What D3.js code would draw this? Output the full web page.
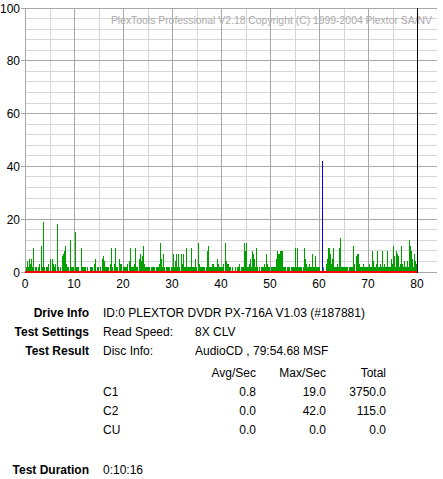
<!DOCTYPE html>
<html><head><meta charset="utf-8">
<script src="https://cdn.jsdelivr.net/npm/d3@7"></script>
<style>
body{margin:0;background:#fff}
svg{display:block}
text{font-family:"Liberation Sans",Arial,sans-serif;}
</style>
</head><body><svg id="c" width="443" height="479"></svg>
<script>
// C1 errors per sample column
const c1 = [
2,4,2,5,3,5,2,9,0,2,
2,0,2,3,0,10,2,19,2,0,
2,2,3,0,5,0,5,3,2,3,
0,18,2,0,2,0,6,7,8,10,
3,2,2,0,12,2,2,2,0,15,
2,2,2,0,0,9,2,2,2,2,
0,2,0,0,2,2,2,0,3,5,
0,2,2,0,2,0,5,6,4,2,
2,2,2,0,3,9,2,0,3,9,
2,2,0,5,3,3,0,2,2,2,
2,3,0,4,9,2,2,2,3,9,
2,2,0,5,7,4,6,10,3,2,
2,2,2,2,0,2,2,2,2,0,
2,2,2,3,11,5,2,7,2,0,
2,2,2,2,0,2,2,7,2,4,
7,2,7,2,0,7,3,7,2,2,
9,2,2,2,2,9,2,2,2,5,
2,0,11,3,2,2,2,2,2,0,
2,8,10,2,2,2,3,3,2,2,
2,5,3,2,2,2,2,3,0,11,
4,3,3,2,2,0,2,0,0,2,
0,2,2,3,0,2,2,2,11,8,
11,2,2,3,5,2,8,7,5,2,
9,2,0,2,0,2,2,2,3,2,
7,3,2,2,0,2,2,2,2,2,
5,8,7,7,8,8,8,2,2,2,
0,2,2,2,0,2,2,2,2,9,
2,9,2,2,2,2,0,2,9,5,
3,2,2,3,2,2,7,2,2,6,
2,2,2,2,0,0,5,2,0,0,
3,5,9,9,7,3,5,9,2,2,
2,3,2,9,13,2,2,2,2,2,
2,2,0,2,2,2,2,10,3,0,
6,7,7,3,2,2,2,3,2,2,
2,2,2,3,2,2,8,4,2,2,
3,8,2,2,3,2,8,2,3,2,
2,8,2,2,2,5,3,10,6,2,
8,7,6,2,3,10,3,2,4,2,
2,4,2,12,10,8,5,2,7,4,
3,2
];
const c2Minutes = [60.6];
const c2Values = [42];
const discMinutes = 79 + 54.68 / 60;
const xTicks = [0, 10, 20, 30, 40, 50, 60, 70, 80];
const xMinor = [5, 15, 25, 35, 45, 55, 65, 75];
const yTicks = [0, 20, 40, 60, 80, 100];
const yMinor = [4, 8, 12, 16, 24, 28, 32, 36, 44, 48, 52, 56, 64, 68, 72, 76, 84, 88, 92, 96];
const watermark = "PlexTools Professional V2.18 Copyright (C) 1999-2004 Plextor SA/NV";

const infoRows = [
  ["Drive Info", "ID:0 PLEXTOR DVDR PX-716A V1.03 (#187881)", ""],
  ["Test Settings", "Read Speed:", "8X CLV"],
  ["Test Result", "Disc Info:", "AudioCD , 79:54.68 MSF"]
];
const statHeaders = ["Avg/Sec", "Max/Sec", "Total"];
const statNames = ["C1", "C2", "CU"];
const statAvg = ["0.8", "0.0", "0.0"];
const statMax = ["19.0", "42.0", "0.0"];
const statTotal = ["3750.0", "115.0", "0.0"];
const durationLabel = "Test Duration";
const durationValue = "0:10:16";

const svg = d3.select("#c");
const x = d3.scaleLinear().domain([0, 84]).range([25, 436.6]);
const y = d3.scaleLinear().domain([0, 100]).range([272, 8]);
const px = v => Math.round(x(v)) + 0.5;
const py = v => Math.floor(y(v)) + 0.5;

const grid = svg.append("g").attr("shape-rendering", "crispEdges");
grid.selectAll(".hm").data(yMinor).join("line")
  .attr("x1", 25).attr("x2", 437).attr("y1", py).attr("y2", py)
  .attr("stroke", "#d6d6d6");
grid.selectAll(".vm").data(xMinor).join("line")
  .attr("x1", px).attr("x2", px).attr("y1", 8).attr("y2", 273)
  .attr("stroke", "#d6d6d6");
grid.selectAll(".hM").data(yTicks).join("line")
  .attr("x1", 21).attr("x2", 437).attr("y1", py).attr("y2", py)
  .attr("stroke", "#a8a8a8");
grid.selectAll(".vM").data(xTicks).join("line")
  .attr("x1", px).attr("x2", px).attr("y1", 8).attr("y2", 273)
  .attr("stroke", "#a8a8a8");

// watermark (behind marks)
svg.append("text").attr("x", 432).attr("y", 24)
  .attr("text-anchor", "end").attr("font-size", 10.4)
  .attr("fill", "#aaaaaa")
  .text(watermark);

// C1 bars
const step = discMinutes / c1.length;
svg.append("g").attr("shape-rendering", "crispEdges")
  .selectAll("rect").data(c1).join("rect")
  .attr("x", (d, i) => Math.round(x(i * step)) + 1)
  .attr("width", 1)
  .attr("y", d => y(d))
  .attr("height", d => y(0) - y(d))
  .attr("fill", "#00a000");

// C2 bars
svg.append("g").attr("shape-rendering", "crispEdges")
  .selectAll("rect").data(c2Values).join("rect")
  .attr("x", (d, i) => Math.round(x(c2Minutes[i])))
  .attr("width", 1)
  .attr("y", d => y(d))
  .attr("height", d => y(0) - y(d))
  .attr("fill", "#0000ff");

// C2 zero line (red)
svg.append("rect").attr("shape-rendering", "crispEdges")
  .attr("x", x(0)).attr("width", x(discMinutes) - x(0))
  .attr("y", y(0) - 1).attr("height", 2)
  .attr("fill", "#ff0000");

// end of disc marker
svg.append("line").attr("shape-rendering", "crispEdges")
  .attr("x1", px(discMinutes)).attr("x2", px(discMinutes))
  .attr("y1", 8).attr("y2", 273)
  .attr("stroke", "#000");

// axis labels
svg.selectAll(".yl").data(yTicks).join("text")
  .attr("x", 20).attr("y", d => y(d) + 4.5)
  .attr("text-anchor", "end").attr("font-size", 12).attr("fill", "#000")
  .text(d => d);
svg.selectAll(".xl").data(xTicks).join("text")
  .attr("x", d => x(d)).attr("y", 288)
  .attr("text-anchor", "middle").attr("font-size", 12).attr("fill", "#000")
  .text(d => d);

// info block
const rowY = [317, 336, 355];
const info = svg.append("g").attr("font-size", 12).attr("fill", "#000");
infoRows.forEach((r, i) => {
  info.append("text").attr("x", 89).attr("y", rowY[i]).attr("text-anchor", "end")
    .attr("font-weight", "bold").text(r[0]);
  info.append("text").attr("x", 103).attr("y", rowY[i]).text(r[1]);
  if (r[2]) info.append("text").attr("x", 195).attr("y", rowY[i]).text(r[2]);
});
const colX = [256, 326, 386];
statHeaders.forEach((h, j) => {
  info.append("text").attr("x", colX[j]).attr("y", 377).attr("text-anchor", "end").text(h);
});
const statY = [396, 415, 434];
statNames.forEach((n, i) => {
  info.append("text").attr("x", 103).attr("y", statY[i]).text(n);
  [statAvg[i], statMax[i], statTotal[i]].forEach((v, j) => {
    info.append("text").attr("x", colX[j]).attr("y", statY[i]).attr("text-anchor", "end").text(v);
  });
});
info.append("text").attr("x", 89).attr("y", 474).attr("text-anchor", "end")
  .attr("font-weight", "bold").text(durationLabel);
info.append("text").attr("x", 103).attr("y", 474).text(durationValue);
</script>
</body></html>
